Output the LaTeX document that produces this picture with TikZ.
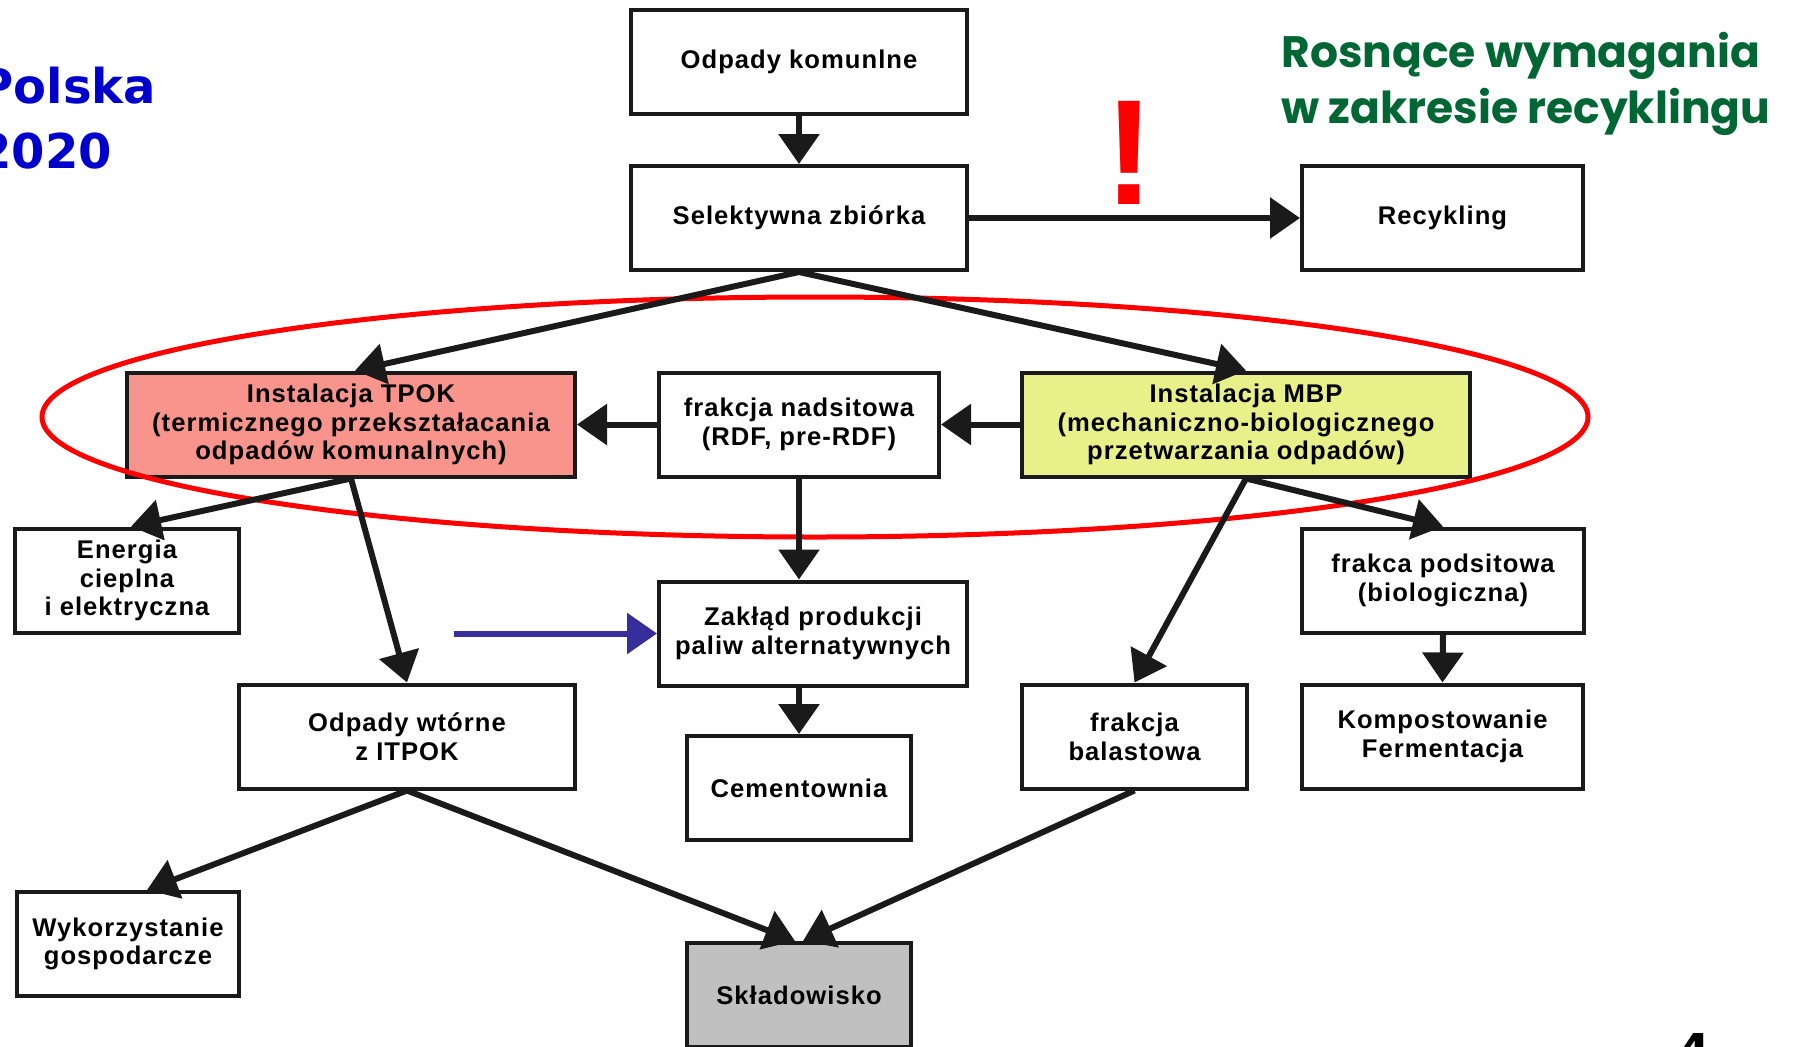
\documentclass[tikz,border=0pt]{standalone}
\usepackage{fontspec}
\setmainfont{Liberation Sans}[LetterSpace=4]
\newfontfamily\headfont{DejaVu Sans}
\newfontfamily\notefont{Poppins}
\newfontfamily\markfont{Liberation Sans}
\usetikzlibrary{positioning,arrows.meta}

\definecolor{boxline}{RGB}{26,26,26}
\definecolor{tpokfill}{RGB}{248,148,140}
\definecolor{mbpfill}{RGB}{232,240,138}
\definecolor{dumpfill}{RGB}{192,192,192}
\definecolor{slideblue}{RGB}{0,0,204}
\definecolor{notegreen}{RGB}{0,102,51}
\definecolor{fuelblue}{RGB}{55,45,155}

\tikzset{
    box/.style={rectangle, draw=boxline, line width=2pt, fill=white, align=center,
        inner sep=0pt, minimum height=52pt,
        font=\fontsize{12.8pt}{14.4pt}\selectfont\bfseries},
    flow/.style={-{Triangle[length=15pt,width=20pt]}, line width=3pt, draw=boxline},
    ring/.style={draw=red, line width=2.5pt}
}

\begin{document}
\begin{tikzpicture}[x=0.5pt,y=-0.5pt]
    \useasboundingbox (0,0) rectangle (1795,1046);

    % titles
    \node[anchor=base west, inner sep=0pt, align=left, text=slideblue,
          font=\headfont\bfseries\fontsize{24pt}{32.5pt}\selectfont] (region) at (-22,168) {Polska\\2020};
    \node[anchor=base west, inner sep=0pt, align=left, text=notegreen,
          font=\notefont\bfseries\fontsize{22pt}{28pt}\selectfont] (demand) at (1281,123) {Rosnące wymagania\\w zakresie recyklingu};
    \node[anchor=base, inner sep=0pt, text=red,
          font=\markfont\bfseries\fontsize{75pt}{75pt}\selectfont] (warn) at (1129,204) {!};
    \node[anchor=north, inner sep=0pt,
          font=\headfont\bfseries\fontsize{24pt}{24pt}\selectfont] (page) at (1694,1033) {4};

    % collection
    \node[box, minimum width=168pt] (odp) at (799,62) {Odpady komunlne};
    \node[box, minimum width=168pt] (sel) at (799,218) {Selektywna zbiórka};
    \node[box, minimum width=140.5pt] (rec) at (1442.5,218) {Recykling};

    % installations
    \node[box, minimum width=224pt, fill=tpokfill] (tpok) at (351,424.5) {Instalacja TPOK\\(termicznego przekształacania\\odpadów komunalnych)};
    \node[box, minimum width=140pt] (nad) at (799,424.5) {frakcja nadsitowa\\(RDF, pre-RDF)};
    \node[box, minimum width=224pt, fill=mbpfill] (mbp) at (1246,424.5) {Instalacja MBP\\(mechaniczno-biologicznego\\przetwarzania odpadów)};

    % products
    \node[box, minimum width=112pt] (ene) at (127,580.5) {Energia\\cieplna\\i elektryczna};
    \node[box, minimum width=154pt] (zak) at (813,633.5) {Zakłąd produkcji\\paliw alternatywnych};
    \node[box, minimum width=141pt] (pod) at (1443,580.5) {frakca podsitowa\\(biologiczna)};
    \node[box, minimum width=168pt] (wto) at (407,736.5) {Odpady wtórne\\z ITPOK};
    \node[box, minimum width=112pt] (cem) at (799,788) {Cementownia};
    \node[box, minimum width=112.5pt] (bal) at (1134.5,736.5) {frakcja\\balastowa};
    \node[box, minimum width=140.5pt] (kom) at (1442.5,736.5) {Kompostowanie\\Fermentacja};
    \node[box, minimum width=111pt] (wyk) at (128,944) {Wykorzystanie\\gospodarcze};
    \node[box, minimum width=112pt, fill=dumpfill] (skl) at (799,995) {Składowisko};

    % highlight
    \draw[ring] (815,417) ellipse [x radius=386.5pt, y radius=60pt];

    % connectors
    \draw[flow] (odp.south) -- (sel.north);
    \draw[flow] (sel.east) -- (rec.west);
    \draw[flow] (sel.south) -- ([xshift=2pt]tpok.north);
    \draw[flow] (sel.south) -- (mbp.north);
    \draw[flow] (nad.west) -- (tpok.east);
    \draw[flow] (mbp.west) -- (nad.east);
    \draw[flow] (nad.south) -- (nad.south |- zak.north);
    \draw[flow] (tpok.south) -- ([xshift=2pt]ene.north);
    \draw[flow] (tpok.south) -- (wto.north);
    \coordinate[left=101.5pt of zak.west] (inflow);
    \draw[flow, draw=fuelblue] (inflow) -- (zak.west);
    \draw[flow] (cem.north |- zak.south) -- (cem.north);
    \draw[flow] (mbp.south) -- (bal.north);
    \draw[flow] (mbp.south) -- (pod.north);
    \draw[flow] (pod.south) -- (kom.north);
    \draw[flow] (wto.south) -- ([xshift=9.5pt]wyk.north);
    \draw[flow] (wto.south) -- ([xshift=-2pt]skl.north);
    \draw[flow] (bal.south) -- ([xshift=2pt]skl.north);
\end{tikzpicture}
\end{document}
